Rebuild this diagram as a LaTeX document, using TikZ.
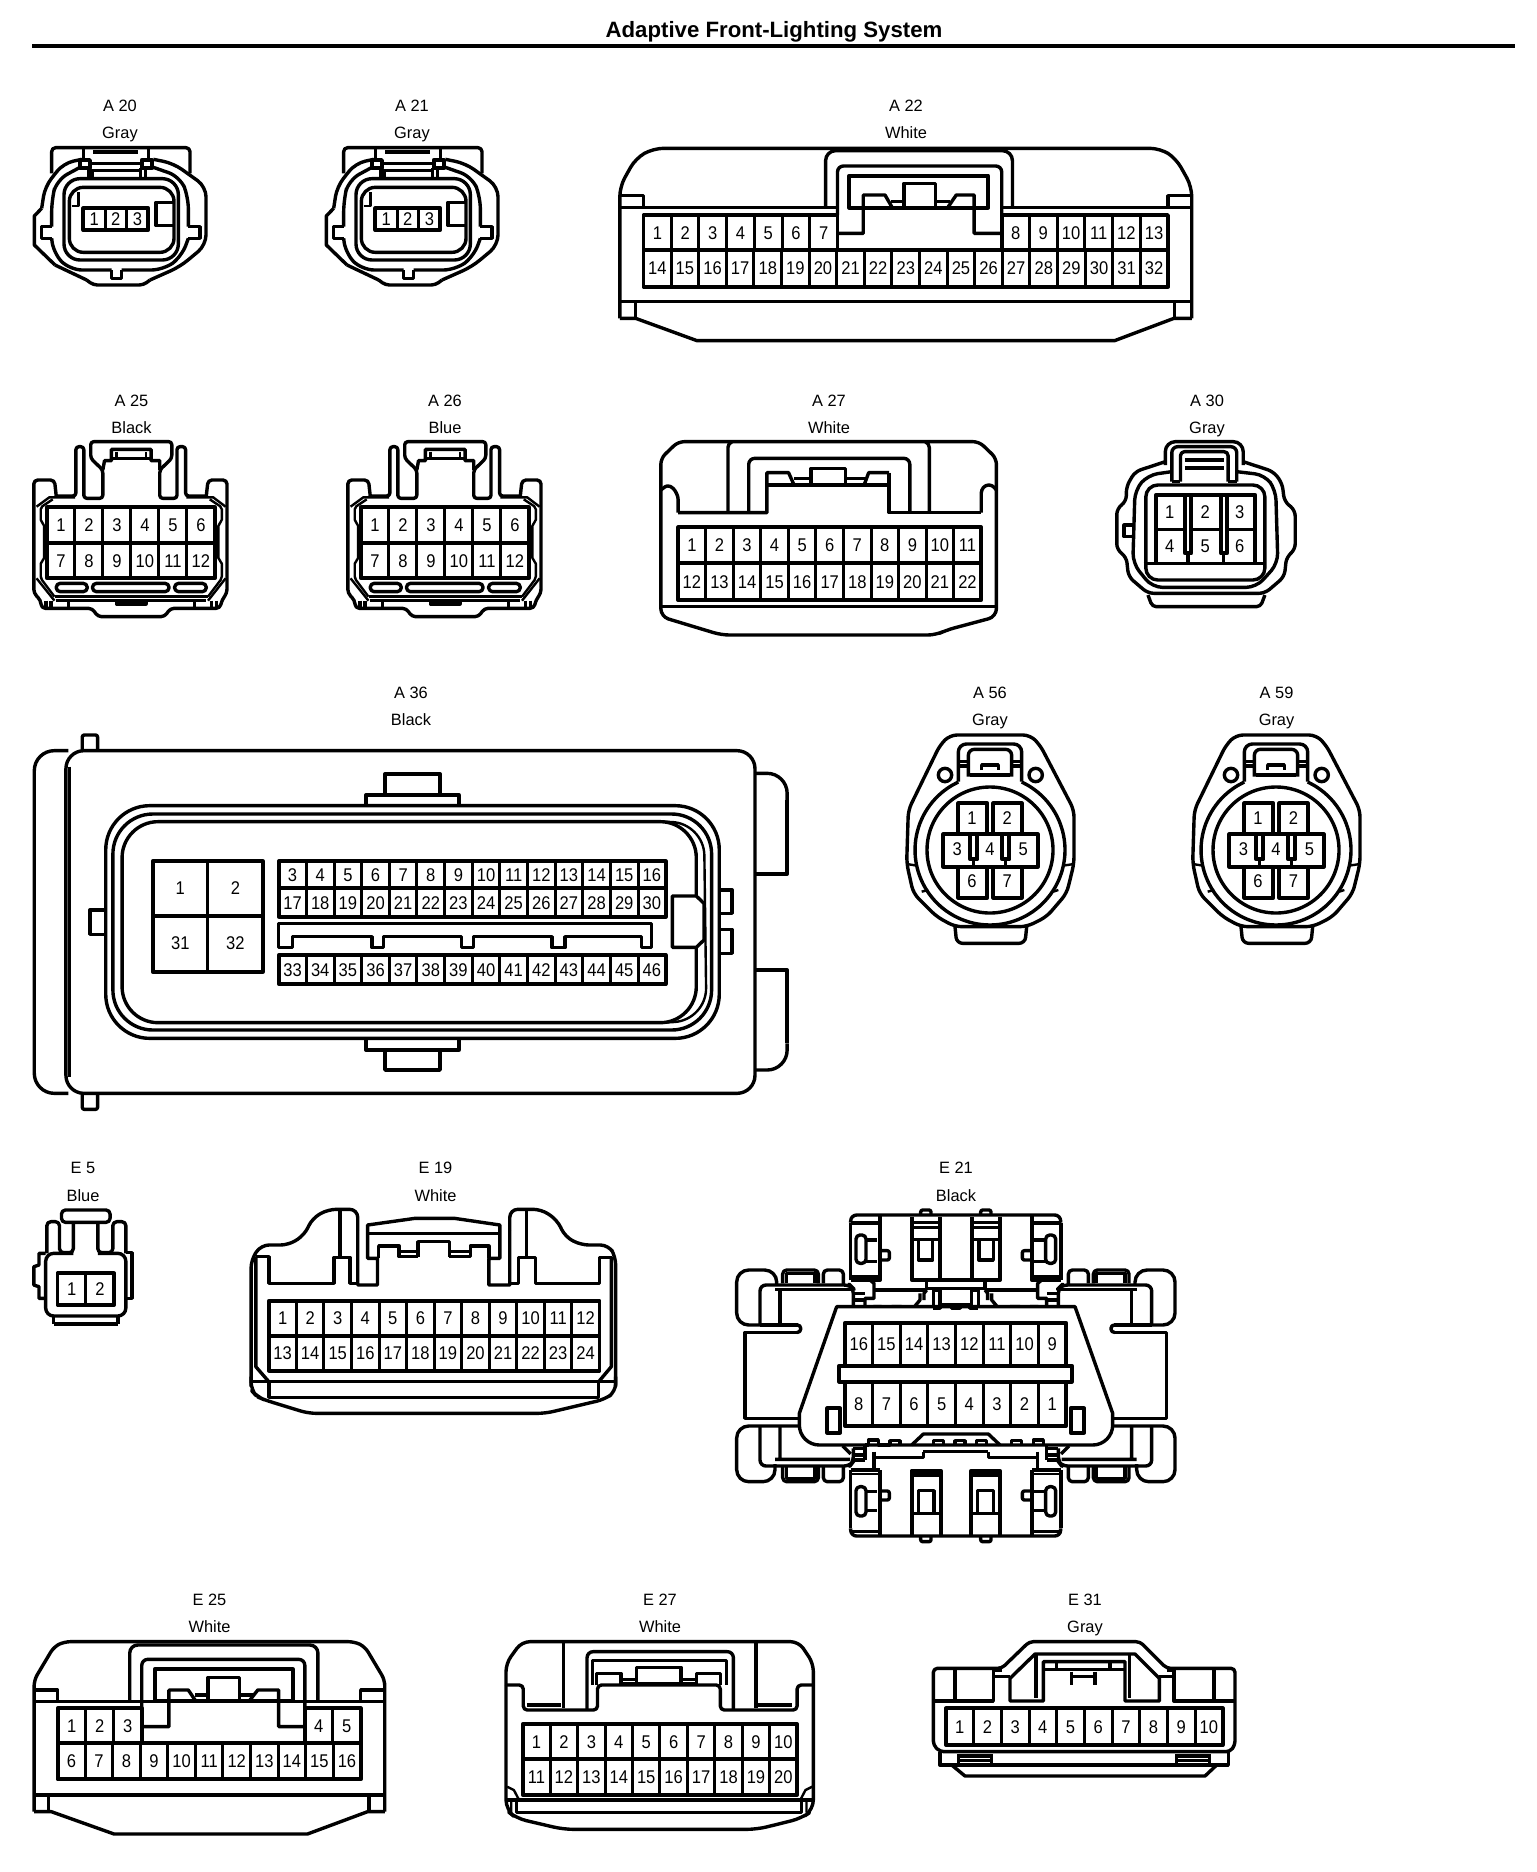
\documentclass[tikz,border=0pt]{standalone}
\usepackage{fontspec}
\setmainfont{Liberation Sans}
\newfontfamily\pinfont[FakeStretch=0.9]{Liberation Sans}
\tikzset{
  zc/.style n args={3}{shift={(#1,#2)},x=#3pt,y=-0.16667pt},
  pin/.style={inner sep=0pt,text height=6.6pt,text depth=0pt,font=\pinfont\fontsize{9.2}{10}\selectfont},
  lbl/.style={inner sep=0pt,text height=5.9pt,text depth=0pt,font=\fontsize{8.2}{10}\selectfont},
  pframe/.style={line width=1.9pt},
  pdiv/.style={line width=1.5pt},
  thin line/.style={line width=1.2pt},
  heavy/.style={line width=2.1pt},
}
\newcommand{\lab}[5]{%
  \node[lbl] (#1) at (#2,#3) {#1};
  \node[lbl] (#1c) at (#2,#3+27.3) {#4#5};}
\newcommand{\pinrow}[7][1]{%
  \draw[pframe] (#2,#3) rectangle (#4,#5);
  \foreach \i in {1,...,#7}{%
    \pgfmathsetmacro\pcx{#2+(#4-#2)/#7*(\i-0.5)}%
    \pgfmathtruncatemacro\pnum{#6+(\i-1)*#1}%
    \node[pin] (p\pnum) at (\pcx,{(#3+#5)/2}) {\pnum};
    \ifnum\i<#7
      \pgfmathsetmacro\pdx{#2+(#4-#2)/#7*\i}%
      \draw[pdiv] (\pdx,#3) -- (\pdx,#5);
    \fi}}
\newcommand{\pn}[3]{\node[pin] (q#3) at (#1,#2) {#3};}
\newcommand{\connAtwenty}{%
 \draw[rounded corners=2pt] (155,280)--(155,203)--(570,203)--(570,280);
 \draw[heavy] (280,215)--(415,215);
 \draw (250,208)--(250,240) (445,208)--(445,240);
 \draw[rounded corners=5pt] (245,238)--(190,250)--(135,320)--(125,385);
 \draw (125,385)--(103,408)--(103,495)--(165,555);
 \draw[rounded corners=5pt] (165,555)--(260,600);
 \draw[rounded corners=5pt] (460,238)--(520,250)--(618,320)--(618,495)--(540,560)--(450,600);
 \draw[rounded corners=2pt] (260,600)--(280,615)--(430,615)--(450,600);
 \draw[rounded corners=6pt] (240,262)--(170,300)--(155,360)--(155,440);
 \draw (155,440)--(125,440)--(125,475)--(155,475);
 \draw[rounded corners=6pt] (155,475)--(160,520)--(210,570)--(335,570);
 \draw (335,570)--(335,595)--(365,595)--(365,570);
 \draw[rounded corners=6pt] (365,570)--(490,570)--(545,530)--(565,475);
 \draw (565,475)--(600,475)--(600,440)--(565,440);
 \draw[rounded corners=6pt] (565,440)--(565,350)--(540,290)--(460,262);
 \draw[rounded corners=8pt] (192,296) rectangle (535,540);
 \draw[rounded corners=7pt] (208,322) rectangle (522,517);
 \draw[thin line] (215,378)--(235,378)--(235,335);
 \draw[pframe] (240,240) rectangle (270,265) (425,240) rectangle (455,265);
 \draw (270,250)--(425,250) (270,272)--(425,272);
 \draw (265,265)--(265,298) (276,272)--(276,298) (421,265)--(421,298) (436,265)--(436,298);
 \pinrow{250}{385}{445}{450}{1}{3}
 \draw (522,367)--(468,367)--(468,437)--(522,437);
}
\newcommand{\connAtwofive}{%
 \draw[rounded corners=2pt] (105,318)--(100,270)--(40,270)--(40,610)--(60,630)--(62,655)--(210,655)--(225,680)--(420,680)--(435,655)--(580,655)--(585,630)--(600,610)--(600,270)--(545,270)--(540,318);
 \draw[rounded corners=1.5pt] (105,318)--(162,318)--(162,170)--(185,170)--(185,325)--(240,325)--(240,240)--(205,205)--(205,155)--(440,155)--(440,205)--(405,240)--(405,325)--(455,325)--(455,170)--(480,170)--(480,318)--(540,318);
 \draw (240,240)--(245,212)--(265,212)--(265,178)--(380,178)--(380,212)--(405,212)--(405,240);
 \draw[thin line] (280,185)--(280,205)--(365,205)--(365,185);
 \draw (265,205)--(380,205);
 \draw[thin line,rounded corners=1pt] (95,328)--(60,352)--(60,395)--(70,402)--(70,510)--(60,515)--(60,565)--(100,620);
 \draw[thin line,rounded corners=1pt] (550,328)--(585,352)--(585,395)--(575,402)--(575,510)--(585,515)--(585,565)--(545,620);
 \draw[thin line] (48,350)--(85,322)--(160,322) (596,350)--(560,322)--(482,322) (48,565)--(100,632) (596,565)--(545,632);
 \draw[rounded corners=2pt] (105,580) rectangle (195,605) (210,580) rectangle (432,605) (448,580) rectangle (540,605);
 \draw (100,620)--(545,620);
 \draw (105,632)--(540,632);
 \draw (140,632)--(140,655) (505,632)--(505,655) (75,632)--(75,655) (90,632)--(90,655) (555,632)--(555,655) (570,632)--(570,655);
 \draw (280,632)--(280,642)--(365,642)--(365,632);
 \pinrow{78}{352}{565}{458}{1}{6}
 \pinrow{78}{458}{565}{565}{7}{6}
}
\newcommand{\connAfivesix}{%
 \draw[rounded corners=3.5pt] (300,45)--(420,45)--(450,75)--(552,270)--(552,430)--(530,520)--(470,590)--(410,620)--(195,620)--(140,590)--(70,520)--(50,430)--(55,270)--(150,75)--(180,45)--cycle;
 \draw[rounded corners=3pt] (195,620)--(200,670)--(405,670)--(410,620);
 \draw (300,390) circle [radius=189];
 \draw plot[smooth,domain=-65:245,samples=50] ({300+225*cos(\x)},{390+225*sin(\x)});
 \draw[thin line] (50,432)--(75,436) (552,432)--(525,436) (95,515)--(115,510) (505,510)--(490,515);
 \draw[rounded corners=4pt] (205,185)--(205,72)--(395,72)--(395,185);
 \draw[rounded corners=3pt] (235,170)--(235,88)--(365,88)--(365,170);
 \draw[heavy] (240,165)--(360,165);
 \draw (275,150)--(275,135)--(325,135)--(325,150);
 \draw (205,125)--(235,125) (205,138)--(235,138) (365,125)--(395,125) (365,138)--(395,138);
 \draw (165,165) circle [radius=20] (437,165) circle [radius=20];
 \draw[pframe] (205,343)--(205,250)--(292,250)--(292,343) (310,343)--(310,250)--(395,250)--(395,343);
 \draw[pframe] (160,343) rectangle (443,440);
 \draw[pframe] (205,440)--(205,533)--(292,533)--(292,440) (310,440)--(310,533)--(395,533)--(395,440);
 \draw[pframe] (240,345)--(240,418)--(262,418)--(262,345) (336,345)--(336,418)--(358,418)--(358,345);
 \draw (251,418)--(251,440) (347,418)--(347,440);
 \pn{246}{295}{1}\pn{352}{295}{2}\pn{202}{388}{3}\pn{300}{388}{4}\pn{400}{388}{5}\pn{246}{483}{6}\pn{352}{483}{7}
}
\newcommand{\eHalf}{%
 % top-left module
 \draw (362,240)--(362,68);
 \draw[pframe] (362,68)--(450,68) (450,45)--(450,240)--(362,240);
 \draw[thin line] (362,230)--(450,230);
 \draw[rounded corners=2pt] (378,105) rectangle (408,190);
 \draw (408,120)--(442,120) (408,185)--(442,185);
 \draw[rounded corners=1pt] (450,152)--(478,152)--(478,180)--(450,180);
 % top-mid module
 \draw[pframe] (545,50)--(545,240)--(630,240)--(630,50);
 \draw (545,68)--(630,68) (545,82)--(630,82) (545,118)--(630,118);
 \draw (565,118)--(565,180)--(608,180)--(608,118);
 \draw[rounded corners=1pt] (572,45)--(572,30)--(603,30)--(603,45);
 % bottom-left module
 \draw[pframe] (362,810)--(450,810) (450,810)--(450,1008);
 \draw (362,810)--(362,985);
 \draw[thin line] (362,822)--(450,822) (362,995)--(450,995);
 \draw[rounded corners=2pt] (378,860) rectangle (408,948);
 \draw (408,875)--(442,875) (408,932)--(442,932);
 \draw[rounded corners=1pt] (450,873)--(478,873)--(478,900)--(450,900);
 % bottom-mid module
 \draw[pframe] (545,1005)--(545,812)--(632,812)--(632,1005);
 \draw (545,825)--(632,825);
 \draw (565,940)--(565,872)--(612,872)--(612,940)--cycle;
 \draw (545,940)--(632,940);
 \draw[rounded corners=1pt] (572,1008)--(572,1025)--(603,1025)--(603,1008);
 % links
 \draw (420,240)--(432,250)--(432,295)--(405,295)--(405,330)--(430,330)--(430,320)--(455,320)--(455,330)--(485,330)--(485,320)--(515,320)--(515,330)--(545,330)--(570,300)--(570,280);
 \draw (432,270)--(590,270) (590,270)--(590,240);
 \draw (582,300)--(582,280)--(590,270);
 \draw (432,755)--(432,805) (432,772)--(580,772)--(580,755);
 \draw (370,745)--(405,745) (370,765)--(405,765) (370,780)--(405,780) (405,735)--(405,780);
 \draw (370,280)--(405,280) (370,300)--(405,300) (370,320)--(405,320);
 % top side
 \draw[rounded corners=6pt] (140,255)--(140,210)--(20,210)--(20,375)--(90,375);
 \draw (90,375)--(203,375);
 \draw[rounded corners=1.6pt] (203,375)--(212,375)--(212,397)--(203,397);
 \draw (203,397)--(45,397)--(45,655)--(205,655);
 \draw[rounded corners=2pt] (158,250)--(158,210)--(265,210)--(265,250) (280,250)--(280,210)--(340,210)--(340,255);
 \draw (170,250)--(170,220)--(255,220)--(255,250);
 \draw[rounded corners=3pt] (90,375)--(90,255)--(360,255)--(370,265)--(370,320);
 \draw (135,268)--(362,268) (150,268)--(150,375);
 % bottom side
 \draw[rounded corners=6pt] (205,678)--(20,678)--(20,845)--(135,845)--(135,792);
 \draw[rounded corners=2pt] (158,800)--(158,845)--(265,845)--(265,800) (280,800)--(280,845)--(340,845)--(340,800);
 \draw (170,800)--(170,835)--(255,835)--(255,800);
 \draw[rounded corners=3pt] (90,678)--(90,798)--(360,798)--(370,785)--(370,745);
 \draw (135,778)--(360,778) (150,678)--(150,778) (338,738)--(362,762);
}
\begin{document}
\begin{tikzpicture}[x=0.5pt,y=-0.5pt,line width=1.7pt,line join=round]
\useasboundingbox (0,0) rectangle (1536,1872);
\node[inner sep=0pt,font=\bfseries\fontsize{11.1}{12}\selectfont] (title) at (774,32) {Adaptive Front-Lighting System};
\coordinate (ruleL) at (32,46); \coordinate (ruleR) at (1515,46);
\draw[line width=2.4pt] (ruleL)--(ruleR);

\lab{A 20}{120}{105.5}{Gray}{}
\lab{A 21}{412}{105.5}{Gray}{}
\lab{A 22}{906}{105.5}{White}{}
\lab{A 25}{131.5}{400.5}{Black}{}
\lab{A 26}{445}{400.5}{Blue}{}
\lab{A 27}{829}{400.5}{White}{}
\lab{A 30}{1207}{400.5}{Gray}{}
\lab{A 36}{411}{692.5}{Black}{}
\lab{A 56}{990}{692.5}{Gray}{}
\lab{A 59}{1276.5}{692.5}{Gray}{}
\lab{E 5}{83}{1168}{Blue}{}
\lab{E 19}{435.5}{1168}{White}{}
\lab{E 21}{956}{1168}{Black}{}
\lab{E 25}{209.5}{1599.5}{White}{}
\lab{E 27}{660}{1599.5}{White}{}
\lab{E 31}{1085}{1599.5}{Gray}{}

% A20, A21
\begin{scope}[zc={0}{80}{0.16667}]\connAtwenty\end{scope}
\begin{scope}[zc={292}{80}{0.16667}]\connAtwenty\end{scope}

% A22
\begin{scope}[zc={600}{80}{0.1979}]
 \draw[rounded corners=5pt] (50,715)--(50,320)--(90,235)--(135,205)--(1415,205)--(1455,235)--(1495,320)--(1495,715);
 \draw (50,715)--(90,715)--(245,782)--(1300,782)--(1450,715)--(1495,715);
 \draw (50,383)--(600,383) (1015,383)--(1495,383) (50,665)--(1495,665);
 \draw (50,347)--(110,347)--(110,383) (1495,347)--(1435,347)--(1435,383);
 \draw (90,665)--(90,715) (1452,665)--(1452,715);
 \draw[rounded corners=5pt] (570,383)--(570,212)--(1042,212)--(1042,383);
 \draw[rounded corners=3pt] (600,405)--(600,258)--(1015,258)--(1015,405);
 \draw[heavy] (630,287) rectangle (980,383);
 \draw (600,460)--(665,460)--(665,345)--(720,345)--(737,380);
 \draw (1015,460)--(945,460)--(945,345)--(900,345)--(880,380);
 \draw (768,383)--(768,310)--(848,310)--(848,383);
 \draw (735,365)--(768,365) (848,365)--(885,365);
 \pinrow{110}{405}{600}{510}{1}{7}
 \pinrow{1015}{405}{1435}{510}{8}{6}
 \pinrow{110}{510}{1435}{620}{14}{19}
\end{scope}

% A25, A26
\begin{scope}[zc={20}{390}{0.1725}]\connAtwofive\end{scope}
\begin{scope}[zc={334}{390}{0.1725}]\connAtwofive\end{scope}

% A27
\begin{scope}[zc={650}{390}{0.2165}]
 \draw[rounded corners=3pt] (25,300)--(25,205)--(65,155)--(760,155)--(800,205)--(800,300);
 \draw[rounded corners=4pt] (25,300)--(25,680)--(165,735)--(660,735)--(685,720)--(800,680)--(800,300);
 \draw (25,650)--(800,650);
 \draw[rounded corners=1.5pt] (25,300)--(40,285)--(55,295)--(65,320)--(65,368);
 \draw (65,368)--(270,368)--(270,248)--(320,248)--(332,283);
 \draw (270,285)--(552,285);
 \draw (552,248)--(505,248)--(495,283);
 \draw (372,285)--(372,235)--(452,235)--(452,285);
 \draw (332,265)--(372,265) (452,265)--(497,265);
 \draw (552,248)--(552,368)--(765,368);
 \draw[rounded corners=1.5pt] (765,368)--(765,300)--(775,285)--(790,285)--(800,300);
 \draw[rounded corners=2pt] (180,368)--(180,160)--(190,155);
 \draw[rounded corners=2pt] (645,368)--(645,160)--(635,155);
 \draw[rounded corners=3pt] (228,368)--(228,205)--(600,205)--(600,368);
 \pinrow{65}{412}{765}{520}{1}{11}
 \pinrow{65}{520}{765}{630}{12}{11}
\end{scope}

% A30
\begin{scope}[zc={650}{390}{0.2165}]
 \draw[rounded corners=5pt] (1190,225)--(1190,155)--(1370,155)--(1370,225);
 \draw[rounded corners=3pt] (1190,215)--(1120,245)--(1100,290)--(1100,335)--(1078,355)--(1078,480)--(1100,500)--(1105,560)--(1150,610)--(1420,610)--(1465,560)--(1470,500)--(1490,480)--(1490,360)--(1465,335)--(1460,280)--(1440,245)--(1370,215);
 \draw[rounded corners=5pt] (1205,245)--(1150,255)--(1120,300)--(1115,520)--(1160,592)--(1400,592)--(1450,520)--(1445,300)--(1420,255)--(1355,245);
 \draw[rounded corners=6pt] (1145,285) rectangle (1420,570);
 \draw[rounded corners=2pt] (1150,615)--(1160,650)--(1410,650)--(1420,615);
 \draw (1115,405)--(1095,405)--(1095,440)--(1115,440);
 \draw[rounded corners=3pt] (1205,275)--(1205,170)--(1355,170)--(1355,275);
 \draw[rounded corners=2pt] (1225,275)--(1225,185)--(1335,185)--(1335,275);
 \draw[heavy] (1235,210)--(1325,210) (1235,235)--(1325,235);
 \draw (1205,275)--(1225,275) (1335,275)--(1355,275);
 \draw[pframe] (1168,520)--(1168,315)--(1398,315)--(1398,520);
 \draw (1140,520)--(1420,520);
 \draw[pdiv] (1168,418)--(1235,418) (1250,418)--(1318,418) (1333,418)--(1398,418);
 \draw[pframe] (1235,315)--(1235,490)--(1250,490)--(1250,315) (1318,315)--(1318,490)--(1333,490)--(1333,315);
 \draw (1242,490)--(1242,520) (1325,490)--(1325,520);
 \pn{1200}{365}{1}\pn{1282}{365}{2}\pn{1362}{365}{3}\pn{1200}{467}{4}\pn{1282}{467}{5}\pn{1362}{467}{6}
\end{scope}

% A36
\begin{scope}[zc={20}{720}{0.2552}]
 \draw[rounded corners=10pt] (95,92)--(28,92)--(28,1120)--(95,1120);
 \draw[rounded corners=9pt] (90,92) rectangle (1440,1120);
 \draw[thin line] (97,140)--(97,1070);
 \draw[rounded corners=10pt] (1440,160)--(1503,160)--(1503,240);
 \draw (1503,240)--(1503,462)--(1440,462) (1440,750)--(1503,750)--(1503,970);
 \draw[rounded corners=10pt] (1503,970)--(1503,1050)--(1440,1050);
 \draw[rounded corners=1pt] (122,92)--(122,45)--(152,45)--(152,92) (122,1120)--(122,1168)--(152,1168)--(152,1120);
 \draw (715,222)--(715,162)--(823,162)--(823,222) (678,257)--(678,225)--(860,225)--(860,257);
 \draw (678,960)--(678,990)--(860,990)--(860,960) (715,990)--(715,1050)--(823,1050)--(823,990);
 \draw[rounded corners=22pt] (168,257) rectangle (1370,955);
 \draw[rounded corners=20pt] (182,282) rectangle (1355,930);
 \draw[rounded corners=18pt] (200,305) rectangle (1325,908);
 \draw[thin line,rounded corners=16pt] (1260,305)--(1340,310)--(1345,900)--(1260,908);
 \draw (168,570)--(137,570)--(137,643)--(168,643);
 \draw (1370,510)--(1395,510)--(1395,580)--(1370,580) (1370,628)--(1395,628)--(1395,700)--(1370,700);
 \draw[fill=white] (1278,528)--(1325,528)--(1340,550)--(1340,660)--(1325,682)--(1278,682)--cycle;
 \draw[pframe] (260,424) rectangle (476,755);
 \draw[pdiv] (368,424)--(368,755);
 \draw[pframe] (260,588)--(476,588);
 \pn{314}{505}{1}\pn{422}{505}{2}\pn{314}{670}{31}\pn{422}{670}{32}
 \pinrow{507}{424}{1265}{505}{3}{14}
 \pinrow{507}{505}{1265}{590}{17}{14}
 \pinrow{507}{705}{1265}{792}{33}{14}
 \draw (507,610)--(1237,610)--(1237,683)--(1218,683)--(1218,650)--(1068,650)--(1068,683)--(1042,683)--(1042,650)--(888,650)--(888,683)--(865,683)--(865,650)--(712,650)--(712,683)--(690,683)--(690,650)--(534,650)--(534,683)--(507,683)--cycle;
\end{scope}

% A56, A59
\begin{scope}[zc={890}{720}{0.16667}]\connAfivesix\end{scope}
\begin{scope}[zc={1176}{720}{0.16667}]\connAfivesix\end{scope}

% E5
\begin{scope}[zc={20}{1190}{0.1975}]
 \draw[rounded corners=2pt] (105,60) rectangle (228,97);
 \draw[rounded corners=2pt] (68,190)--(68,95)--(100,95)--(100,188)--(135,188)--(135,97);
 \draw[rounded corners=2pt] (197,97)--(197,188)--(235,188)--(235,95)--(268,95)--(268,190);
 \draw[rounded corners=4pt] (135,190)--(65,190)--(65,378)--(268,378)--(268,190)--(197,190);
 \draw (268,188)--(284,188)--(284,325)--(268,325);
 \draw (65,190)--(48,190)--(48,225)--(35,230)--(35,285)--(48,290)--(48,325)--(65,325);
 \draw (85,378)--(85,402) (248,378)--(248,402);
 \draw[heavy] (85,402)--(248,402);
 \pinrow{95}{250}{238}{345}{1}{2}
\end{scope}

% E19
\begin{scope}[zc={20}{1190}{0.1975}]
 \draw[rounded corners=4pt] (585,590)--(585,210)--(610,165)--(680,165)--(720,135)--(740,85)--(780,58)--(855,58)--(855,120);
 \draw (855,120)--(855,285)--(905,285)--(905,205)--(880,205)--(880,105)--(1000,85)--(1100,85)--(1215,105)--(1215,205)--(1187,205)--(1187,285)--(1240,285)--(1240,120);
 \draw[rounded corners=4pt] (1240,120)--(1240,58)--(1320,58)--(1360,90)--(1380,140)--(1420,165)--(1490,165)--(1508,200)--(1508,590);
 \draw[rounded corners=4pt] (1508,560)--(1508,605)--(1480,628)--(1330,670)--(730,670)--(620,630)--(600,620)--(585,600)--(585,560);
 \draw (597,200)--(630,200)--(630,280)--(795,280)--(795,202)--(835,202)--(835,280)--(855,280);
 \draw (1240,280)--(1262,280)--(1262,202)--(1305,202)--(1305,280)--(1467,280)--(1467,202)--(1500,202);
 \draw (810,60)--(810,202) (1283,60)--(1283,202);
 \draw (880,130)--(1215,130);
 \draw (908,205)--(908,168)--(960,168)--(960,200)--(1008,200);
 \draw (1187,205)--(1187,168)--(1140,168)--(1140,200)--(1087,200);
 \draw (1008,200)--(1008,155)--(1087,155)--(1087,200);
 \draw (960,185)--(1008,185) (1087,185)--(1140,185);
 \draw (597,200)--(597,530)--(630,575) (1497,200)--(1497,530)--(1465,575);
 \draw (585,575)--(1508,575);
 \draw (630,575)--(630,622)--(1465,622)--(1465,575);
 \pinrow{630}{332}{1467}{437}{1}{12}
 \pinrow{630}{437}{1467}{542}{13}{12}
\end{scope}

% E21
\begin{scope}[zc={730}{1200}{0.16667}]
 \eHalf
 \begin{scope}[shift={(1355,0)},xscale=-1]\eHalf\end{scope}
 \draw[rounded corners=3pt] (362,68)--(362,45)--(992,45)--(992,68);
 \draw[rounded corners=3pt] (362,985)--(362,1008)--(992,1008)--(992,985);
 \draw (630,240)--(725,240) (590,265)--(765,265);
 \draw (610,325)--(610,270)--(630,270)--(630,315)--(725,315)--(725,270)--(745,270)--(745,325);
 \draw (580,755)--(775,755);
 \draw[fill=white] (320,320)--(1035,320)--(1148,640) [rounded corners=10pt] --(1148,735)--(208,735) [sharp corners] --(208,640)--cycle;
 \draw (405,735)--(415,735)--(415,720)--(445,720)--(445,735)--(480,735)--(480,722)--(510,722)--(510,735);
 \draw (845,735)--(845,722)--(875,722)--(875,735) (910,735)--(910,720)--(940,720)--(940,735);
 \draw (545,735)--(580,702)--(775,702)--(810,735);
 \draw (610,735)--(610,722)--(640,722)--(640,735) (675,735)--(675,722)--(705,722)--(705,735) (740,735)--(740,722)--(770,722)--(770,735);
 \draw (610,325)--(630,325)--(630,318)--(665,318)--(665,325)--(690,325)--(690,318)--(720,318)--(720,325)--(745,325);
 \pinrow[-1]{345}{368}{1008}{497}{16}{8}
 \draw[pframe,fill=white] (328,497) rectangle (1025,545);
 \pinrow[-1]{345}{545}{1008}{678}{8}{8}
 \draw[pframe] (292,625) rectangle (330,698) (1022,625) rectangle (1062,698);
\end{scope}

% E25
\begin{scope}[zc={20}{1630}{0.2613}]
 \draw[rounded corners=3pt] (27,545)--(27,150)--(65,50)--(85,35)--(640,35)--(660,50)--(698,150)--(698,545);
 \draw (27,545)--(60,545)--(180,612)--(550,612)--(665,545)--(698,545);
 \draw (27,215)--(258,215) (522,215)--(698,215) (27,495)--(698,495);
 \draw (27,180)--(72,180)--(72,215) (698,180)--(652,180)--(652,215) (55,495)--(55,545) (668,495)--(668,545);
 \draw[rounded corners=4pt] (210,215)--(210,45)--(570,45)--(570,215);
 \draw[rounded corners=3pt] (233,235)--(233,88)--(545,88)--(545,235);
 \draw[heavy] (258,118) rectangle (522,212);
 \draw (233,290)--(285,290)--(285,180)--(322,180)--(335,210);
 \draw (545,290)--(495,290)--(495,180)--(455,180)--(440,210);
 \draw (360,210)--(360,142)--(420,142)--(420,210) (335,195)--(360,195) (420,195)--(445,195);
 \pinrow{72}{235}{233}{340}{1}{3}
 \pinrow{545}{235}{652}{340}{4}{2}
 \pinrow{72}{340}{652}{448}{6}{11}
\end{scope}

% E27
\begin{scope}[zc={20}{1630}{0.2613}]
 \draw[rounded corners=4pt] (930,165)--(930,100)--(960,35)--(1490,35)--(1518,100)--(1518,165);
 \draw[rounded corners=5pt] (930,165)--(930,540)--(950,565)--(1040,598)--(1410,598)--(1495,565)--(1518,540)--(1518,165);
 \draw[rounded corners=2pt] (930,165)--(963,165)--(963,240)--(1105,240)--(1105,165)--(1340,165)--(1340,240)--(1487,240)--(1487,165)--(1518,165);
 \draw[rounded corners=3pt] (1085,240)--(1085,65)--(1365,65)--(1365,240);
 \draw (1095,165)--(1095,92)--(1352,92)--(1352,165);
 \draw (1103,165)--(1103,130)--(1150,130)--(1150,165) (1295,165)--(1295,130)--(1340,130)--(1340,165);
 \draw (1180,160)--(1180,112)--(1265,112)--(1265,160) (1150,148)--(1180,148) (1265,148)--(1295,148) (1150,160)--(1295,160);
 \draw (1040,35)--(1040,235) (1408,35)--(1408,235);
 \draw (970,225)--(1035,225) (1412,225)--(1478,225);
 \pinrow{962}{282}{1487}{387}{1}{10}
 \pinrow{962}{387}{1487}{495}{11}{10}
 \draw[heavy] (930,510)--(1518,510);
 \draw (950,510)--(950,548)--(1495,548)--(1495,510);
 \draw[thin line] (932,470)--(945,480)--(955,510) (1516,470)--(1503,480)--(1493,510) (940,510)--(940,548) (1505,510)--(1505,548);
\end{scope}

% E31
\begin{scope}[zc={920}{1630}{0.16667}]
 \draw[rounded corners=2pt] (40,345)--(40,115)--(245,115)--(328,35)--(660,35)--(740,115)--(945,115)--(945,345)--(930,365)--(60,365)--cycle;
 \draw (105,118)--(105,213) (882,118)--(882,213);
 \draw (40,213)--(220,213)--(220,118) (225,122)--(245,122) (225,140)--(270,140);
 \draw (762,118)--(762,213)--(945,213) (718,140)--(762,140) (740,122)--(762,122);
 \draw (270,213)--(270,145)--(345,72)--(645,72)--(718,145)--(718,213)--(615,213)--(615,95)--(370,95)--(370,213)--cycle;
 \draw (348,75)--(348,205) (628,75)--(628,205);
 \draw (370,118)--(615,118) (410,95)--(410,118) (570,95)--(570,118);
 \draw (455,125)--(455,165) (525,125)--(525,165) (455,140)--(525,140);
 \pinrow{78}{235}{908}{345}{1}{10}
 \draw (60,365)--(60,405)--(925,405)--(925,365);
 \draw (115,372)--(115,402) (215,372)--(215,402) (115,378)--(215,378) (115,392)--(215,392);
 \draw (770,372)--(770,402) (868,372)--(868,402) (770,378)--(868,378) (770,392)--(868,392);
 \draw (95,405)--(135,438)--(855,438)--(890,405);
\end{scope}
\end{tikzpicture}
\end{document}
